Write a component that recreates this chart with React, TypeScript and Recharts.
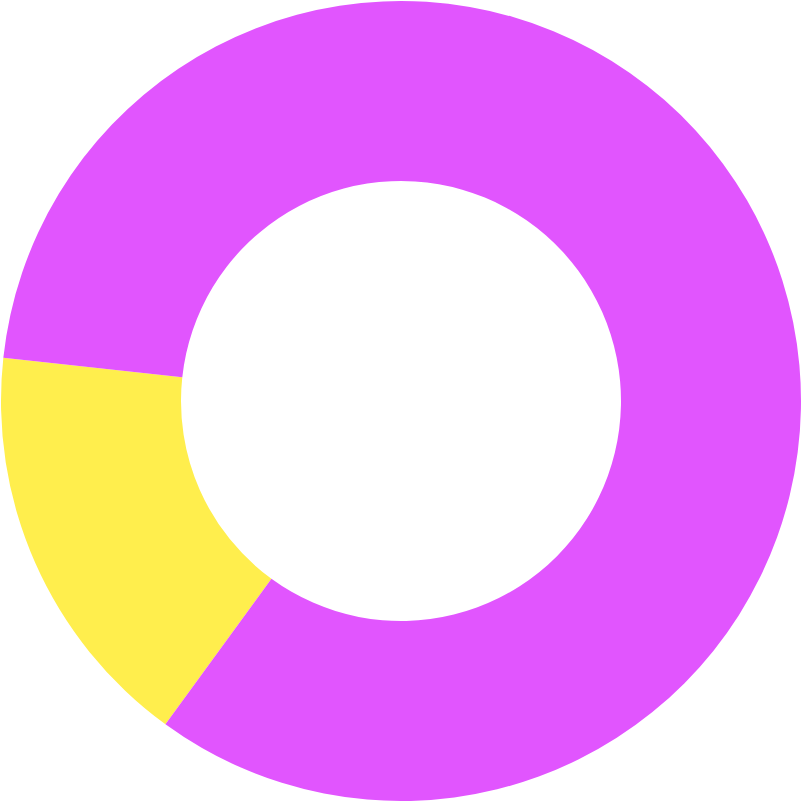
import React from "react";
import { PieChart, Pie, Cell } from "recharts";

const categories = ["Yellow", "Magenta"];
const values = [16.7, 83.3];
const colors = ["#FFEE4D", "#E155FE"];

const data = categories.map((name, i) => ({ name, value: values[i] }));

export default function App() {
  return (
    <div style={{ position: "absolute", left: 0, top: 0 }}>
      <PieChart width={802} height={802} margin={{ top: 0, right: 0, bottom: 0, left: 0 }}>
        <Pie
          data={data}
          dataKey="value"
          nameKey="name"
          cx={401}
          cy={401}
          innerRadius={220}
          outerRadius={400}
          startAngle={173.8}
          endAngle={533.8}
          stroke="none"
          isAnimationActive={false}
        >
          {data.map((d, i) => (
            <Cell key={d.name} fill={colors[i]} />
          ))}
        </Pie>
      </PieChart>
    </div>
  );
}
